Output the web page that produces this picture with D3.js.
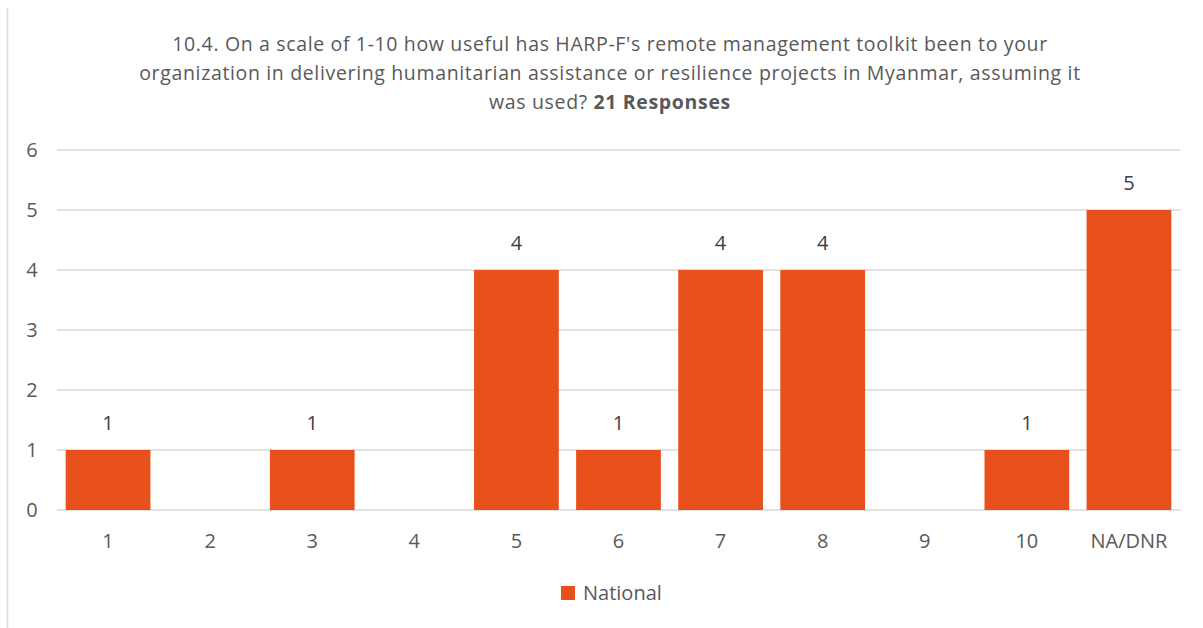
<!DOCTYPE html>
<html><head><meta charset="utf-8">
<script src="https://cdn.jsdelivr.net/npm/d3@7"></script>
<style>body{margin:0;background:#fff;}svg{display:block;font-family:"Open Sans",sans-serif;}</style>
</head><body><svg id="c" width="1203" height="628"></svg>
<script>
const categories = ["1","2","3","4","5","6","7","8","9","10","NA/DNR"];
const values = [1,0,1,0,4,1,4,4,0,1,5];
const yTicks = [0,1,2,3,4,5,6];
const seriesName = "National";
const titleLines = ["10.4. On a scale of 1-10 how useful has HARP-F's remote management toolkit been to your",
 "organization in delivering humanitarian assistance or resilience projects in Myanmar, assuming it"];
const titleLast = "was used? ";
const titleBold = "21 Responses";

const svg = d3.select("#c");
const color = "#E8501C", textCol = "#595959", grid = "#d9d9d9";
const x = d3.scaleBand().domain(categories).range([57,1180]).paddingInner(0.17).paddingOuter(0.085);
const y = d3.scaleLinear().domain([0,6]).range([510,150]);
const data = categories.map((c,i)=>({c, v: values[i]}));

svg.append("line").attr("x1",7.5).attr("x2",7.5).attr("y1",8).attr("y2",628).attr("stroke",grid).attr("stroke-width",1.5);

const t = svg.append("g").attr("text-anchor","middle").attr("fill",textCol)
  .style("font-size","19.5px").style("letter-spacing","0.65px");
titleLines.forEach((l,i)=>t.append("text").attr("x",610).attr("y",51+i*29).text(l));
const tl = t.append("text").attr("x",610).attr("y",109);
tl.append("tspan").text(titleLast);
tl.append("tspan").attr("font-weight","bold").text(titleBold);

svg.append("g").selectAll("line").data(yTicks).join("line")
  .attr("x1",57).attr("x2",1180).attr("y1",d=>y(d)).attr("y2",d=>y(d))
  .attr("stroke",grid).attr("stroke-width",1.5);
svg.append("g").selectAll("text").data(yTicks).join("text")
  .attr("x",32).attr("y",d=>y(d)+7).attr("text-anchor","middle").attr("fill",textCol)
  .style("font-size","20px").text(d=>d);

svg.append("g").selectAll("rect").data(data).join("rect")
  .attr("x",d=>x(d.c)).attr("width",x.bandwidth())
  .attr("y",d=>y(d.v)).attr("height",d=>y(0)-y(d.v)).attr("fill",color);

svg.append("g").selectAll("text").data(data.filter(d=>d.v>0)).join("text")
  .attr("x",d=>x(d.c)+x.bandwidth()/2)
  .attr("y",d=>y(d.v)-20).attr("text-anchor","middle").attr("fill","#404040")
  .style("font-size","20px").text(d=>d.v);

svg.append("g").selectAll("text").data(categories).join("text")
  .attr("x",d=>x(d)+x.bandwidth()/2).attr("y",548).attr("text-anchor","middle").attr("fill",textCol)
  .style("font-size","20px").text(d=>d);

svg.append("rect").attr("x",561).attr("y",586).attr("width",14).attr("height",14).attr("fill",color);
svg.append("text").attr("x",583).attr("y",600).attr("fill",textCol).style("font-size","20px").text(seriesName);
</script></body></html>
